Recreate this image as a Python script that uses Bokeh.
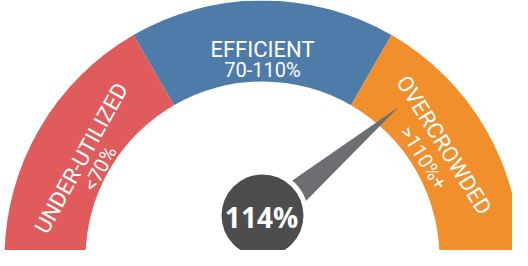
import numpy as np
from bokeh.plotting import figure
from bokeh.models import Range1d
from bokeh.core.properties import value
from bokeh.embed import file_html
from bokeh.resources import INLINE

# ---- data ----
categories = ["UNDER-UTILIZED", "EFFICIENT", "OVERCROWDED"]
ranges = ["<70%", "70-110%", ">110%+"]
bounds = [0, 70, 110, 122]          # scale breakpoints (%)
current = 114
current_label = "114%"

# ---- style ----
colors = ["#E05C5C", "#4F7BA9", "#F18F2D"]
label_ang = [151, 90, 32]            # degrees, label centre on the arc
title_r = [207, 209, 214]            # baseline radius of titles
sub_r = [186, 189, 190]              # baseline radius of sub-labels
font = value("Roboto")

CX, CY = 270, 0                      # gauge centre
R_OUT, R_IN = 258, 177
KX, KY = 270, 43                     # knob centre
PX, PY = 271, 38                     # needle pivot
SEG = 180.0 / len(categories)

p = figure(width=512, height=250, x_range=Range1d(8, 520), y_range=Range1d(8, 258),
           output_backend="svg", toolbar_location=None, min_border=0)
p.axis.visible = False
p.grid.visible = False
p.outline_line_color = None
p.background_fill_color = "white"

for i, c in enumerate(categories):
    start = np.radians(180 - SEG * (i + 1))
    end = np.radians(180 - SEG * i)
    p.annular_wedge(x=CX, y=CY, inner_radius=R_IN, outer_radius=R_OUT,
                    start_angle=start, end_angle=end, fill_color=colors[i],
                    line_color=None)

def arc_text(txt, ang_deg, rb, size):
    a = np.radians(ang_deg)
    x = CX + rb * np.cos(a)
    y = CY + rb * np.sin(a)
    p.text(x=[x], y=[y], text=[txt], angle=a - np.pi / 2, text_align="center",
           text_baseline="alphabetic", text_color="white", text_font=font,
           text_font_size=size)

for i, c in enumerate(categories):
    arc_text(c, label_ang[i], title_r[i], "22px")
    arc_text(ranges[i], label_ang[i], sub_r[i], "20px")

# needle angle from value through the piecewise scale
def val_to_angle(v):
    for i in range(len(bounds) - 1):
        lo, hi = bounds[i], bounds[i + 1]
        if lo <= v <= hi:
            return 180 - SEG * i - SEG * (v - lo) / (hi - lo)
    return 0.0

na = np.radians(val_to_angle(current))
L, W = 176, 16.5
d = np.array([np.cos(na), np.sin(na)])
n = np.array([-np.sin(na), np.cos(na)])
tip = np.array([PX, PY]) + L * d
b1 = np.array([PX, PY]) + W * n
b2 = np.array([PX, PY]) - W * n
p.patch(x=[tip[0], b1[0], b2[0]], y=[tip[1], b1[1], b2[1]],
        fill_color="#6D6E71", line_color=None)

p.circle(x=[KX], y=[KY], radius=46, fill_color="white", line_color=None)
p.circle(x=[KX], y=[KY], radius=41, fill_color="#4D4D4F", line_color=None)
p.text(x=[KX - 1], y=[KY - 1], text=[current_label], text_align="center",
       text_baseline="middle", text_color="white", text_font=value("Open Sans"),
       text_font_style="bold", text_font_size="28px")

open("out.html", "w").write(file_html(p, INLINE))
